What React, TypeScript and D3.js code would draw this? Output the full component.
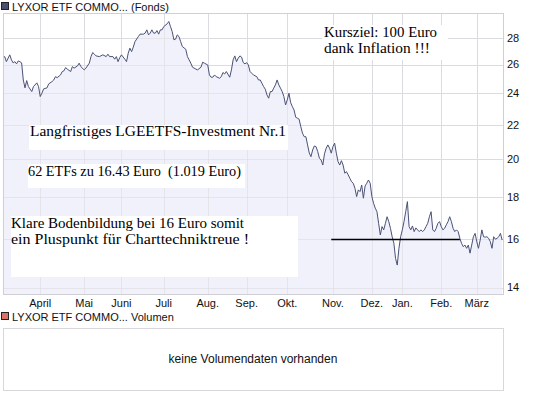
import React from 'react';
import * as d3 from 'd3';

const prices: [number, number][] = [
  [0, 26.49], [1, 26.58], [2, 26.21], [4, 26.71], [5, 26.34], [6, 26.12], [7, 26.21], [8, 26.05],
  [9, 26.26], [10, 26.21], [11, 26.12], [12, 24.91], [13, 24.37], [14, 24.87], [15, 24.46], [17, 24.12],
  [18, 24.46], [20, 24.71], [21, 24.46], [22, 23.79], [23, 24.01], [24, 24.3], [26, 24.37], [27, 24.64],
  [29, 24.8], [30, 24.91], [31, 25.14], [32, 25.07], [34, 25.26], [35, 25.5], [36, 25.55], [37, 25.78],
  [38, 25.67], [40, 25.5], [41, 25.85], [42, 25.74], [44, 25.9], [45, 26.1], [46, 25.85], [48, 25.62],
  [49, 25.74], [51, 26.1], [52, 26.58], [53, 26.88], [54, 26.76], [55, 26.63], [57, 26.58], [59, 26.71],
  [61, 26.58], [62, 26.76], [63, 26.58], [65, 26.58], [66, 26.39], [67, 26.58], [68, 26.21], [69, 26.51],
  [70, 26.71], [72, 26.39], [73, 26.21], [74, 26.83], [75, 27.21], [76, 26.95], [77, 27.29], [78, 27.71],
  [80, 28.1], [81, 28.29], [83, 28.29], [84, 28.37], [85, 28.63], [86, 28.23], [87, 28.37], [88, 28.63],
  [89, 28.37], [90, 28.37], [91, 28.57], [92, 28.29], [93, 28.63], [94, 28.63], [95, 28.89], [97, 29.11],
  [98, 29.3], [99, 28.89], [100, 28.49], [101, 27.85], [102, 27.9], [103, 28.23], [104, 28.1], [105, 27.71],
  [106, 27.33], [108, 27.13], [109, 26.58], [110, 26.34], [111, 26.1], [112, 25.81], [114, 25.67], [115, 25.62],
  [117, 25.81], [118, 26.17], [119, 26.1], [121, 25.97], [122, 25.26], [123, 25.1], [124, 25.1], [125, 25.26],
  [126, 25.14], [128, 25.03], [129, 25.14], [130, 25.43], [131, 25.33], [132, 25.5], [134, 25.1], [135, 25.62],
  [136, 26.34], [137, 26.63], [138, 26.21], [139, 26.46], [140, 26.63], [141, 26.54], [142, 26.14], [143, 26.05],
  [144, 26.14], [145, 25.97], [146, 25.5], [147, 25.38], [148, 25.26], [150, 25.14], [151, 24.91], [152, 24.91],
  [153, 24.69], [154, 24.46], [155, 24.28], [156, 23.9], [157, 23.68], [158, 24.12], [159, 24.12], [160, 24.35],
  [161, 24.57], [162, 24.91], [163, 24.57], [164, 24.35], [165, 24.12], [166, 23.79], [167, 23.24], [168, 23.57],
  [169, 24.01], [170, 23.39], [171, 23.14], [172, 22.92], [173, 22.46], [174, 22.4], [175, 22.34], [176, 21.88],
  [177, 21.49], [178, 21.28], [179, 21.28], [180, 20.8], [181, 20.34], [182, 20.13], [183, 20.51], [184, 20.74],
  [185, 20.7], [186, 20.42], [187, 20.04], [188, 19.95], [189, 19.67], [190, 20.29], [191, 20.61], [192, 20.8],
  [193, 20.61], [194, 20.33], [195, 20.7], [196, 20.9], [197, 20.33], [198, 19.86], [199, 19.67], [200, 19.91],
  [201, 19.67], [202, 19.23], [203, 19.31], [204, 19.14], [205, 18.96], [206, 18.78], [207, 18.7], [208, 18.44],
  [209, 18.02], [210, 18.36], [211, 18.27], [212, 18.61], [213, 17.94], [214, 18.56], [215, 18.7], [216, 18.87],
  [217, 18.7], [218, 18.02], [219, 17.69], [220, 17.45], [221, 17.28], [222, 16.73], [223, 16.2], [224, 16.58],
  [225, 16.43], [226, 16.73], [227, 17.04], [228, 16.81], [229, 16.5], [230, 16.12], [231, 15.83], [232, 15.18],
  [233, 14.9], [234, 15.61], [235, 16.12], [236, 16.43], [237, 16.81], [238, 17.28], [239, 17.77], [240, 16.58],
  [241, 16.43], [242, 16.61], [243, 16.35], [244, 16.52], [245, 16.43], [246, 16.35], [247, 16.43], [248, 16.35],
  [249, 16.43], [250, 16.58], [251, 16.73], [252, 17.04], [253, 17.28], [254, 16.43], [255, 16.35], [256, 16.5],
  [257, 16.73], [258, 16.81], [259, 16.58], [260, 16.43], [261, 16.5], [262, 16.66], [263, 16.81], [264, 17.04],
  [265, 16.81], [266, 16.5], [267, 16.35], [268, 16.43], [269, 16.35], [270, 16.05], [271, 15.83], [272, 15.68],
  [273, 15.75], [274, 15.61], [275, 15.75], [276, 15.4], [277, 15.75], [278, 16.12], [279, 16.27], [280, 15.9],
  [281, 15.61], [282, 15.97], [283, 16.43], [284, 16.12], [285, 16.1], [286, 16.12], [287, 16.05], [288, 15.9],
  [289, 15.61], [290, 16.12], [291, 16.01], [292, 16.05], [293, 16.12], [294, 16.27], [295, 15.97],
];

const monthLabels = ['April', 'Mai', 'Juni', 'Juli', 'Aug.', 'Sep.', 'Okt.', 'Nov.', 'Dez.', 'Jan.', 'Feb.', 'März'];
const monthSessions = [22, 48, 70, 95, 121, 144, 168, 195, 218, 236, 259, 280];
const priceTicks = [14, 16, 18, 20, 22, 24, 26, 28];

const supportLevel = 16;
const supportFrom = 194;
const supportTo = 270;

const W = 545;
const H = 395;
const plot = { left: 3, right: 503, top: 13, bottom: 294 };
const vol = { top: 328, bottom: 390 };

const sans = '"Liberation Sans", Arial, sans-serif';
const serif = '"Liberation Serif", "Times New Roman", serif';

const px = (v: number) => Math.round(v) + 0.5;

export default function App() {
  const x = d3.scaleLinear().domain([0, 295.5]).range([plot.left, plot.right]);
  const y = d3.scaleLog().domain([13.75, 30]).range([plot.bottom, plot.top]);

  const line = d3.line<[number, number]>().x(d => x(d[0])).y(d => y(d[1]));
  const area = d3
    .area<[number, number]>()
    .x(d => x(d[0]))
    .y0(plot.bottom)
    .y1(d => y(d[1]));

  return (
    <svg
      width={W}
      height={H}
      style={{ position: 'absolute', left: 0, top: 0, background: '#fff' }}
    >
      {/* Kopf */}
      <rect x={1.5} y={2.5} width={7} height={7} fill="#4b5073" stroke="#222" />
      <text x={12} y={10.5} fontFamily={sans} fontSize={11} fill="#111">
        LYXOR ETF COMMO... (Fonds)
      </text>

      {/* Gitter */}
      {priceTicks.map(t => (
        <line key={'h' + t} x1={plot.left} x2={plot.right} y1={px(y(t))} y2={px(y(t))} stroke="#dcdce0" />
      ))}
      {monthSessions.map((s, i) => (
        <line key={'v' + i} x1={px(x(s))} x2={px(x(s))} y1={plot.top} y2={plot.bottom} stroke="#dcdce0" />
      ))}

      {/* Kurs */}
      <path d={area(prices) || ''} fill="#f1f1fb" />
      {priceTicks.map(t => (
        <line key={'h2' + t} x1={plot.left} x2={plot.right} y1={px(y(t))} y2={px(y(t))} stroke="#dcdce0" strokeOpacity={0.6} />
      ))}
      {monthSessions.map((s, i) => (
        <line key={'v2' + i} x1={px(x(s))} x2={px(x(s))} y1={plot.top} y2={plot.bottom} stroke="#dcdce0" strokeOpacity={0.6} />
      ))}
      <path d={line(prices) || ''} fill="none" stroke="#4a5276" strokeWidth={1} />

      {/* Unterstützung */}
      <line
        x1={x(supportFrom)}
        x2={x(supportTo)}
        y1={y(supportLevel)}
        y2={y(supportLevel)}
        stroke="#000"
        strokeWidth={1.5}
      />

      <rect x={plot.left + 0.5} y={plot.top + 0.5} width={plot.right - plot.left} height={plot.bottom - plot.top} fill="none" stroke="#cfcfd4" />

      {/* Achsen */}
      {priceTicks.map(t => (
        <text key={'yl' + t} x={507} y={y(t)} dy="0.35em" fontFamily={sans} fontSize={11} fill="#111">
          {t}
        </text>
      ))}
      {monthLabels.map((m, i) => (
        <text key={'m' + i} x={x(monthSessions[i])} y={307} textAnchor="middle" fontFamily={sans} fontSize={11} fill="#111">
          {m}
        </text>
      ))}

      {/* Notizen */}
      <rect x={322} y={25} width={126} height={35} fill="#fff" />
      <text fontFamily={serif} fontSize={14} fill="#000">
        <tspan x={324} y={37} textLength={113} lengthAdjust="spacingAndGlyphs">Kursziel: 100 Euro</tspan>
        <tspan x={324} y={53} textLength={106} lengthAdjust="spacingAndGlyphs">dank Inflation !!!</tspan>
      </text>

      <rect x={29} y={125} width={259} height={25} fill="#fff" />
      <text x={30} y={136} fontFamily={serif} fontSize={14} fill="#000" textLength={256} lengthAdjust="spacingAndGlyphs">
        Langfristiges LGEETFS-Investment Nr.1
      </text>

      <rect x={28} y={164} width={217} height={24} fill="#fff" />
      <text x={28} y={176} fontFamily={serif} fontSize={14} fill="#000" style={{ whiteSpace: 'pre' }} textLength={213} lengthAdjust="spacingAndGlyphs">
        62 ETFs zu 16.43 Euro  (1.019 Euro)
      </text>

      <rect x={11} y={216} width={287} height={61} fill="#fff" />
      <text fontFamily={serif} fontSize={14} fill="#000">
        <tspan x={11} y={228} textLength={233} lengthAdjust="spacingAndGlyphs">Klare Bodenbildung bei 16 Euro somit</tspan>
        <tspan x={11} y={244} textLength={238} lengthAdjust="spacingAndGlyphs">ein Pluspunkt für Charttechniktreue !</tspan>
      </text>

      {/* Volumen */}
      <rect x={1.5} y={312.5} width={7} height={7} fill="#d9726b" stroke="#222" />
      <text x={12} y={320.5} fontFamily={sans} fontSize={11} fill="#111">
        LYXOR ETF COMMO... Volumen
      </text>
      <rect x={plot.left + 0.5} y={vol.top + 0.5} width={plot.right - plot.left} height={vol.bottom - vol.top} fill="#fff" stroke="#d8d8dc" />
      <text x={(plot.left + plot.right) / 2} y={(vol.top + vol.bottom) / 2} dy="0.35em" textAnchor="middle" fontFamily={sans} fontSize={12} fill="#111">
        keine Volumendaten vorhanden
      </text>
    </svg>
  );
}
